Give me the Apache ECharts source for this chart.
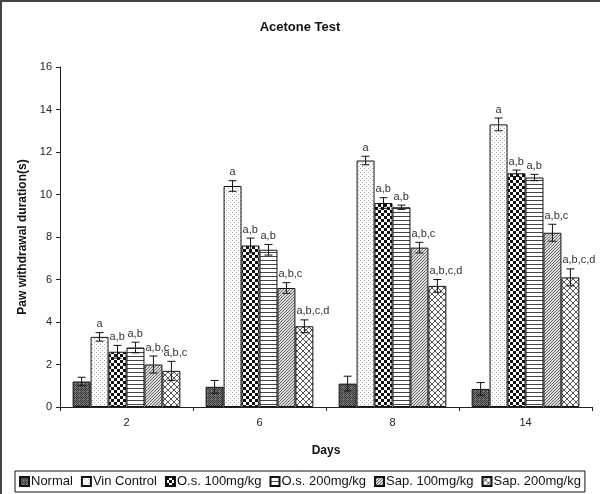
<!DOCTYPE html>
<html>
<head>
<meta charset="utf-8">
<script src="https://cdn.jsdelivr.net/npm/echarts@6/dist/echarts.min.js"></script>
<style>
  html, body { margin: 0; padding: 0; background: #fff; }
  #chart { width: 600px; height: 494px; }
</style>
</head>
<body>
<div id="chart"></div>
<script>
// categories and series data
var days = ['2', '6', '8', '14']
var groups = ['Normal', 'Vin Control', 'O.s. 100mg/kg', 'O.s. 200mg/kg', 'Sap. 100mg/kg', 'Sap. 200mg/kg']
var normal = [1.2, 0.95, 1.1, 0.85]
var vinControl = [3.3, 10.4, 11.6, 13.3]
var os100 = [2.6, 7.6, 9.6, 11.0]
var os200 = [2.8, 7.4, 9.4, 10.8]
var sap100 = [2.0, 5.6, 7.5, 8.2]
var sap200 = [1.7, 3.8, 5.7, 6.1]
var normalErr = [0.2, 0.3, 0.35, 0.3]
var vinErr = [0.2, 0.25, 0.2, 0.3]
var os100Err = [0.3, 0.35, 0.25, 0.15]
var os200Err = [0.25, 0.25, 0.1, 0.15]
var sap100Err = [0.4, 0.25, 0.25, 0.4]
var sap200Err = [0.45, 0.3, 0.3, 0.4]
var normalSig = ['', '', '', '']
var vinSig = ['a', 'a', 'a', 'a']
var os100Sig = ['a,b', 'a,b', 'a,b', 'a,b']
var os200Sig = ['a,b', 'a,b', 'a,b', 'a,b']
var sap100Sig = ['a,b,c', 'a,b,c', 'a,b,c', 'a,b,c']
var sap200Sig = ['a,b,c', 'a,b,c,d', 'a,b,c,d', 'a,b,c,d']
var yTicks = { min: 0, max: 16, interval: 2 }

var values = [normal, vinControl, os100, os200, sap100, sap200]
var errors = [normalErr, vinErr, os100Err, os200Err, sap100Err, sap200Err]
var sigs = [normalSig, vinSig, os100Sig, os200Sig, sap100Sig, sap200Sig]

function makePattern(w, h, draw) {
  var c = document.createElement('canvas')
  c.width = w
  c.height = h
  var g = c.getContext('2d')
  draw(g)
  return { image: c, repeat: 'repeat' }
}

var patterns = [
  makePattern(4, 4, function(g) {
    g.fillStyle = '#777'
    g.fillRect(0, 0, 4, 4)
    g.fillStyle = '#333'
    g.fillRect(0, 0, 1, 1); g.fillRect(2, 0, 1, 1)
    g.fillRect(1, 1, 1, 1); g.fillRect(3, 1, 1, 1)
    g.fillRect(0, 2, 1, 1); g.fillRect(2, 2, 1, 1)
    g.fillRect(1, 3, 1, 1)
  }),
  makePattern(4, 4, function(g) {
    g.fillStyle = '#fff'
    g.fillRect(0, 0, 4, 4)
    g.fillStyle = '#aaa'
    g.fillRect(0, 0, 1, 1); g.fillRect(2, 2, 1, 1)
  }),
  makePattern(6, 6, function(g) {
    g.fillStyle = '#fff'
    g.fillRect(0, 0, 6, 6)
    g.fillStyle = '#111'
    g.fillRect(0, 0, 3, 3); g.fillRect(3, 3, 3, 3)
  }),
  makePattern(4, 4, function(g) {
    g.fillStyle = '#fff'
    g.fillRect(0, 0, 4, 4)
    g.fillStyle = '#444'
    g.fillRect(0, 0, 4, 1)
  }),
  makePattern(3, 3, function(g) {
    g.fillStyle = '#ddd'
    g.fillRect(0, 0, 3, 3)
    g.fillStyle = '#666'
    g.fillRect(0, 2, 1, 1); g.fillRect(1, 1, 1, 1); g.fillRect(2, 0, 1, 1)
  }),
  makePattern(6, 6, function(g) {
    g.fillStyle = '#fff'
    g.fillRect(0, 0, 6, 6)
    g.fillStyle = '#555'
    for (var i = 0; i < 6; i++) {
      g.fillRect(i, i, 1, 1)
      g.fillRect(5 - i, i, 1, 1)
    }
  })
]

var catGap = 0.19
var chart = echarts.init(document.getElementById('chart'), null, { renderer: 'canvas' })

var barSeries = groups.map(function(name, s) {
  return {
    name: name,
    type: 'bar',
    barGap: '0%',
    barCategoryGap: (catGap * 100) + '%',
    itemStyle: { color: patterns[s], borderColor: '#111', borderWidth: 1 },
    emphasis: { disabled: true },
    data: values[s]
  }
})

var errData = []
values.forEach(function(arr, s) {
  arr.forEach(function(v, i) {
    errData.push([i, v, errors[s][i], s, sigs[s][i]])
  })
})

var errSeries = {
  type: 'custom',
  silent: true,
  z: 5,
  renderItem: function(params, api) {
    var cat = api.value(0)
    var v = api.value(1)
    var e = api.value(2)
    var s = api.value(3)
    var sig = errData[params.dataIndex][4]
    var band = api.size([1, 0])[0]
    var bw = band * (1 - catGap) / groups.length
    var center = api.coord([cat, 0])[0]
    var x = center - band * (1 - catGap) / 2 + (s + 0.5) * bw
    var top = api.coord([cat, v + e])[1]
    var bot = api.coord([cat, v - e])[1]
    var cap = 4
    var style = { stroke: '#111', lineWidth: 1 }
    var children = [
      { type: 'line', shape: { x1: x, y1: top, x2: x, y2: bot }, style: style },
      { type: 'line', shape: { x1: x - cap, y1: top, x2: x + cap, y2: top }, style: style },
      { type: 'line', shape: { x1: x - cap, y1: bot, x2: x + cap, y2: bot }, style: style }
    ]
    if (sig) {
      var single = sig.length === 1
      children.push({
        type: 'text',
        style: {
          text: sig,
          x: single ? x : x - bw / 2 + 1,
          y: top - 3,
          align: single ? 'center' : 'left',
          verticalAlign: 'bottom',
          fill: '#333',
          font: '11px Arial, "Liberation Sans", sans-serif'
        }
      })
    }
    return { type: 'group', children: children }
  },
  data: errData
}

var option = {
  backgroundColor: '#fff',
  animation: false,
  textStyle: { fontFamily: 'Arial, "Liberation Sans", sans-serif' },
  title: {
    text: 'Acetone Test',
    left: 'center',
    top: 16,
    textStyle: { fontSize: 13, fontWeight: 'bold', color: '#111' }
  },
  legend: {
    data: groups,
    left: 15,
    bottom: 2,
    width: 580,
    padding: [4, 4, 4, 4],
    borderColor: '#111',
    borderWidth: 1,
    itemWidth: 9,
    itemHeight: 9,
    itemGap: 8,
    icon: 'rect',
    textStyle: { fontSize: 13, color: '#111', padding: [0, 0, 0, -3] }
  },
  grid: { left: 60, right: 8, top: 67, bottom: 87, containLabel: false },
  xAxis: {
    type: 'category',
    data: days,
    name: 'Days',
    nameLocation: 'middle',
    nameGap: 38,
    nameTextStyle: { fontSize: 12, fontWeight: 'bold', color: '#111' },
    axisLine: { lineStyle: { color: '#222', width: 1 } },
    axisTick: { show: true, length: 4, lineStyle: { color: '#222' } },
    axisLabel: { fontSize: 11, color: '#222', margin: 10 },
    splitLine: { show: false }
  },
  yAxis: {
    type: 'value',
    min: yTicks.min,
    max: yTicks.max,
    interval: yTicks.interval,
    name: 'Paw withdrawal duration(s)',
    nameLocation: 'middle',
    nameGap: 31,
    nameTextStyle: { fontSize: 12, fontWeight: 'bold', color: '#111' },
    axisLine: { show: true, lineStyle: { color: '#222', width: 1 } },
    axisTick: { show: true, length: 4, lineStyle: { color: '#222' } },
    axisLabel: { fontSize: 11, color: '#222', margin: 8 },
    splitLine: { show: false }
  },
  graphic: [
    { type: 'line', shape: { x1: 1, y1: 0, x2: 1, y2: 494 }, style: { stroke: '#444', lineWidth: 2 } },
    { type: 'line', shape: { x1: 0, y1: 1, x2: 600, y2: 1 }, style: { stroke: '#444', lineWidth: 2 } }
  ],
  series: barSeries.concat([errSeries])
}

chart.setOption(option)
</script>
</body>
</html>
